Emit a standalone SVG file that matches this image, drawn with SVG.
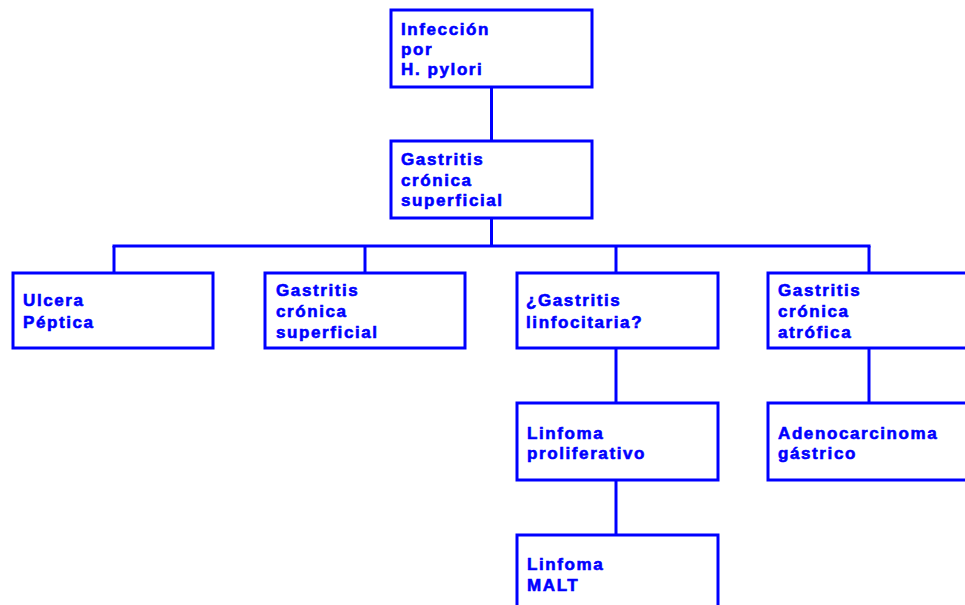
<svg xmlns="http://www.w3.org/2000/svg" width="965" height="605" viewBox="0 0 965 605">
<style>
rect{fill:#fff;stroke:#0000ff;stroke-width:3}
.c line{stroke:#0000ff;stroke-width:3}
text{font-family:"Liberation Sans",Arial,sans-serif;font-weight:bold;font-size:17px;letter-spacing:1.6px;fill:#0000ff;stroke:#0000ff;stroke-width:0.6px}
</style>
<rect x="0" y="0" width="965" height="605" style="stroke:none"/>
<g class="c" id="connectors">
<line x1="491.5" y1="87" x2="491.5" y2="140"/>
<line x1="491.5" y1="219" x2="491.5" y2="246"/>
<line x1="112.5" y1="246" x2="870.5" y2="246"/>
<line x1="114" y1="246" x2="114" y2="273"/>
<line x1="365" y1="246" x2="365" y2="273"/>
<line x1="616" y1="246" x2="616" y2="273"/>
<line x1="869" y1="246" x2="869" y2="273"/>
<line x1="616" y1="348" x2="616" y2="403"/>
<line x1="869" y1="348" x2="869" y2="403"/>
<line x1="616" y1="480" x2="616" y2="534"/>
</g>
<g id="n1"><rect x="391" y="10" width="201" height="77"/>
<text x="401" y="35">Infección</text><text x="401" y="55">por</text><text x="401" y="75">H. pylori</text></g>
<g id="n2"><rect x="391" y="141" width="201" height="77"/>
<text x="401" y="165">Gastritis</text><text x="401" y="186">crónica</text><text x="401" y="206">superficial</text></g>
<g id="n3"><rect x="13" y="273" width="200" height="75"/>
<text x="23" y="306">Ulcera</text><text x="23" y="328">Péptica</text></g>
<g id="n4"><rect x="265" y="273" width="200" height="75"/>
<text x="276" y="296">Gastritis</text><text x="276" y="317">crónica</text><text x="276" y="338">superficial</text></g>
<g id="n5"><rect x="517" y="273" width="201" height="75"/>
<text x="526" y="306">¿Gastritis</text><text x="526" y="328">linfocitaria?</text></g>
<g id="n6"><rect x="768" y="273" width="210" height="75"/>
<text x="778" y="296">Gastritis</text><text x="778" y="317">crónica</text><text x="778" y="338">atrófica</text></g>
<g id="n7"><rect x="517" y="403" width="201" height="77"/>
<text x="527" y="439">Linfoma</text><text x="527" y="459">proliferativo</text></g>
<g id="n8"><rect x="768" y="403" width="210" height="77"/>
<text x="778" y="439">Adenocarcinoma</text><text x="778" y="459">gástrico</text></g>
<g id="n9"><rect x="517" y="535" width="201" height="80"/>
<text x="527" y="570">Linfoma</text><text x="527" y="591">MALT</text></g>
</svg>
